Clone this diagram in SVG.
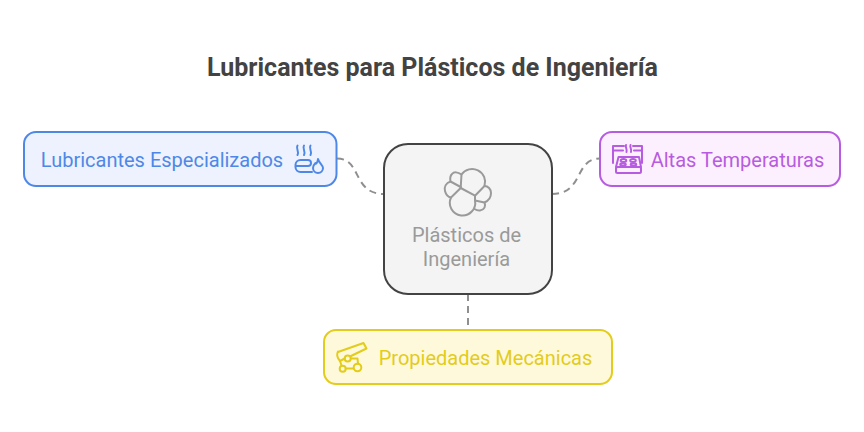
<svg xmlns="http://www.w3.org/2000/svg" width="864" height="432" viewBox="0 0 864 432">
<style>
text{font-family:Roboto,"Liberation Sans",sans-serif}
.t{font-size:20px;text-anchor:middle}
.box{stroke-width:2}
.ic{fill:none;stroke-width:2;stroke-linecap:round;stroke-linejoin:round}
.c{fill:none;stroke:#8f8f8f;stroke-width:2;stroke-dasharray:7 5}
</style>
<rect width="864" height="432" fill="#ffffff"/>
<text x="432.500" y="76" font-size="25" font-weight="700" fill="#434343" text-anchor="middle">Lubricantes para Plásticos de Ingeniería</text>
<g id="connectors">
<path class="c" d="M337 158.500C362 158.500 352 194 384 194"/>
<path class="c" d="M552 194C584 194 574 158.500 600 158.500"/>
<path class="c" d="M468 294V330"/>
</g>
<g id="center">
<rect class="box" x="384" y="144" width="168" height="150" rx="24" fill="#f4f4f4" stroke="#434343"/>
<g class="ic" stroke="#9a9a9a">
<path d="M460.700 188L461.500 174.500A13 13 0 0 1 484.500 186L475 195.700"/>
<path d="M451 197.500A12.700 12.700 0 1 0 475 200.500V195.700L460.700 188"/>
<path d="M461.500 174.500C458 172 454 171.500 452 174C450 176 450 179 450.500 181.500L460.700 187"/>
<path d="M450.500 181.500C446 183 444 187 445 191C446 195 448 197 451 197.500L460.700 188"/>
<path d="M484.500 186C488 186 491 189 491 193C491 198 488 201 484.500 202.500L475 200.500"/>
<path d="M484.500 202.500C486 206 484.500 210 480 210.500C478 210.700 476 210 474.500 209"/>
</g>
<text class="t" x="466.500" y="242" fill="#9a9a9a">Plásticos de</text>
<text class="t" x="466.500" y="266" fill="#9a9a9a">Ingeniería</text>
</g>
<g id="lubricantes">
<rect class="box" x="24" y="132" width="312.500" height="54" rx="12" fill="#edf2fe" stroke="#4e88e7"/>
<text class="t" x="162" y="167" fill="#4e88e7">Lubricantes Especializados</text>
<g class="ic" stroke="#4e88e7">
<path d="M297.500 145.500C295.500 148.500 299.500 151 297.500 155M304 145.500C302 148.500 306 151 304 155M310.500 145.500C308.500 148.500 312.500 151 310.500 155"/>
<path d="M296 166H308A3 3 0 0 0 308 160H300.500A5 5 0 0 0 295.500 165V167A5 5 0 0 0 300.500 172H312"/>
<path d="M318 159C319 163 323 165 323 168A5 5 0 0 1 313 168C313 165.500 314.500 164 315.500 163C315.500 165 317.500 163 318 159Z"/>
</g>
</g>
<g id="altas">
<rect class="box" x="600" y="132" width="240" height="54" rx="12" fill="#fdf0fe" stroke="#b75ce0"/>
<text class="t" x="737.500" y="167" fill="#b75ce0">Altas Temperaturas</text>
<g class="ic" stroke="#b75ce0">
<path d="M624 146H613V163M613 150.500H623M633 146H642V163M634 150.500H642"/>
<path d="M626 145C625 147.500 627.500 149 626.500 152M630.500 145C629.500 147.500 632 149 631 152"/>
<path d="M618.500 157H639L641 167H616Z"/>
<rect x="616" y="167" width="25" height="6" rx="1.500"/>
<ellipse cx="623.500" cy="160.500" rx="2.800" ry="1.500"/>
<ellipse cx="633" cy="160.500" rx="2.800" ry="1.500"/>
<ellipse cx="623" cy="164.500" rx="2.800" ry="1.300"/>
<ellipse cx="633.500" cy="164.500" rx="2.800" ry="1.300"/>
</g>
</g>
<g id="propiedades">
<rect class="box" x="324" y="330" width="288" height="54" rx="12" fill="#fef9da" stroke="#e3cc1c"/>
<text class="t" x="485.500" y="365" fill="#e3cc1c">Propiedades Mecánicas</text>
<g class="ic" stroke="#e3cc1c">
<path d="M338 352L363.500 343L366.500 348.500L351 356"/>
<path d="M338 351.500C336.500 354 337.500 358 340 361L344.800 358.500"/>
<circle cx="347.700" cy="358.500" r="3"/>
<circle cx="342.700" cy="368.700" r="3"/>
<circle cx="357.500" cy="367.500" r="3.800"/>
<path d="M345.700 368.500H353.700M340 361L341.500 365.500M351 358.500L357.500 358.500L358 363.700"/>
</g>
</g>
</svg>
